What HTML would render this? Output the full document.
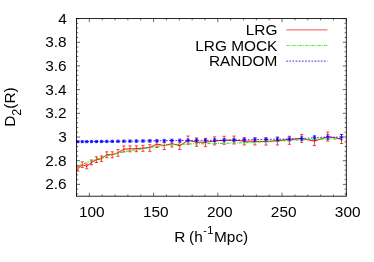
<!DOCTYPE html><html><head><meta charset="utf-8"><style>html,body{margin:0;padding:0;background:#fff}svg{display:block}</style></head><body><svg width="374" height="262" viewBox="0 0 374 262">
<defs><filter id="bl" x="0" y="0" width="100%" height="100%" filterUnits="userSpaceOnUse"><feGaussianBlur stdDeviation="0.4"/></filter></defs>
<rect width="100%" height="100%" fill="#fff"/>
<g filter="url(#bl)">
<g stroke="#000" stroke-width="0.6" fill="none">
<path d="M76.50,196.20 v-1.70 M76.50,18.60 v1.70"/>
<path d="M89.35,196.20 v-3.50 M89.35,18.60 v3.50"/>
<path d="M102.20,196.20 v-1.70 M102.20,18.60 v1.70"/>
<path d="M115.04,196.20 v-1.70 M115.04,18.60 v1.70"/>
<path d="M127.89,196.20 v-1.70 M127.89,18.60 v1.70"/>
<path d="M140.74,196.20 v-1.70 M140.74,18.60 v1.70"/>
<path d="M153.59,196.20 v-3.50 M153.59,18.60 v3.50"/>
<path d="M166.43,196.20 v-1.70 M166.43,18.60 v1.70"/>
<path d="M179.28,196.20 v-1.70 M179.28,18.60 v1.70"/>
<path d="M192.13,196.20 v-1.70 M192.13,18.60 v1.70"/>
<path d="M204.98,196.20 v-1.70 M204.98,18.60 v1.70"/>
<path d="M217.82,196.20 v-3.50 M217.82,18.60 v3.50"/>
<path d="M230.67,196.20 v-1.70 M230.67,18.60 v1.70"/>
<path d="M243.52,196.20 v-1.70 M243.52,18.60 v1.70"/>
<path d="M256.37,196.20 v-1.70 M256.37,18.60 v1.70"/>
<path d="M269.21,196.20 v-1.70 M269.21,18.60 v1.70"/>
<path d="M282.06,196.20 v-3.50 M282.06,18.60 v3.50"/>
<path d="M294.91,196.20 v-1.70 M294.91,18.60 v1.70"/>
<path d="M307.76,196.20 v-1.70 M307.76,18.60 v1.70"/>
<path d="M320.60,196.20 v-1.70 M320.60,18.60 v1.70"/>
<path d="M333.45,196.20 v-1.70 M333.45,18.60 v1.70"/>
<path d="M346.30,196.20 v-3.50 M346.30,18.60 v3.50"/>
<path d="M76.50,193.83 h1.70 M346.30,193.83 h-1.70"/>
<path d="M76.50,189.10 h1.70 M346.30,189.10 h-1.70"/>
<path d="M76.50,184.36 h3.50 M346.30,184.36 h-3.50"/>
<path d="M76.50,179.62 h1.70 M346.30,179.62 h-1.70"/>
<path d="M76.50,174.89 h1.70 M346.30,174.89 h-1.70"/>
<path d="M76.50,170.15 h1.70 M346.30,170.15 h-1.70"/>
<path d="M76.50,165.42 h1.70 M346.30,165.42 h-1.70"/>
<path d="M76.50,160.68 h3.50 M346.30,160.68 h-3.50"/>
<path d="M76.50,155.94 h1.70 M346.30,155.94 h-1.70"/>
<path d="M76.50,151.21 h1.70 M346.30,151.21 h-1.70"/>
<path d="M76.50,146.47 h1.70 M346.30,146.47 h-1.70"/>
<path d="M76.50,141.74 h1.70 M346.30,141.74 h-1.70"/>
<path d="M76.50,137.00 h3.50 M346.30,137.00 h-3.50"/>
<path d="M76.50,132.26 h1.70 M346.30,132.26 h-1.70"/>
<path d="M76.50,127.53 h1.70 M346.30,127.53 h-1.70"/>
<path d="M76.50,122.79 h1.70 M346.30,122.79 h-1.70"/>
<path d="M76.50,118.06 h1.70 M346.30,118.06 h-1.70"/>
<path d="M76.50,113.32 h3.50 M346.30,113.32 h-3.50"/>
<path d="M76.50,108.58 h1.70 M346.30,108.58 h-1.70"/>
<path d="M76.50,103.85 h1.70 M346.30,103.85 h-1.70"/>
<path d="M76.50,99.11 h1.70 M346.30,99.11 h-1.70"/>
<path d="M76.50,94.38 h1.70 M346.30,94.38 h-1.70"/>
<path d="M76.50,89.64 h3.50 M346.30,89.64 h-3.50"/>
<path d="M76.50,84.90 h1.70 M346.30,84.90 h-1.70"/>
<path d="M76.50,80.17 h1.70 M346.30,80.17 h-1.70"/>
<path d="M76.50,75.43 h1.70 M346.30,75.43 h-1.70"/>
<path d="M76.50,70.70 h1.70 M346.30,70.70 h-1.70"/>
<path d="M76.50,65.96 h3.50 M346.30,65.96 h-3.50"/>
<path d="M76.50,61.22 h1.70 M346.30,61.22 h-1.70"/>
<path d="M76.50,56.49 h1.70 M346.30,56.49 h-1.70"/>
<path d="M76.50,51.75 h1.70 M346.30,51.75 h-1.70"/>
<path d="M76.50,47.02 h1.70 M346.30,47.02 h-1.70"/>
<path d="M76.50,42.28 h3.50 M346.30,42.28 h-3.50"/>
<path d="M76.50,37.54 h1.70 M346.30,37.54 h-1.70"/>
<path d="M76.50,32.81 h1.70 M346.30,32.81 h-1.70"/>
<path d="M76.50,28.07 h1.70 M346.30,28.07 h-1.70"/>
<path d="M76.50,23.34 h1.70 M346.30,23.34 h-1.70"/>
<path d="M76.50,18.60 h3.50 M346.30,18.60 h-3.50"/>
</g>
<g font-family="Liberation Sans, sans-serif" font-size="15.4" fill="#000">
<text x="66.7" y="189.36" text-anchor="end">2.6</text>
<text x="66.7" y="165.68" text-anchor="end">2.8</text>
<text x="66.7" y="142.00" text-anchor="end">3</text>
<text x="66.7" y="118.32" text-anchor="end">3.2</text>
<text x="66.7" y="94.64" text-anchor="end">3.4</text>
<text x="66.7" y="70.96" text-anchor="end">3.6</text>
<text x="66.7" y="47.28" text-anchor="end">3.8</text>
<text x="66.7" y="23.60" text-anchor="end">4</text>
<text x="91.75" y="216.8" text-anchor="middle">100</text>
<text x="155.74" y="216.8" text-anchor="middle">150</text>
<text x="219.72" y="216.8" text-anchor="middle">200</text>
<text x="283.71" y="216.8" text-anchor="middle">250</text>
<text x="347.70" y="216.8" text-anchor="middle">300</text>
<text x="174.13" y="241.70">R</text>
<text x="189.08" y="241.70">(h</text>
<text x="203.32" y="234.10" font-size="10.8">-</text>
<text x="206.9" y="234.30" font-size="11.8">1</text>
<text x="214.04" y="241.70">Mpc)</text>
<text transform="translate(14.9,107.1) rotate(-90)" text-anchor="middle">D<tspan font-size="12.6" dy="6.2">2</tspan><tspan dy="-6.2">(R)</tspan></text>
<text x="277.4" y="35.2" text-anchor="end">LRG</text>
<text x="277.4" y="50.8" text-anchor="end">LRG MOCK</text>
<text x="277.4" y="66.4" text-anchor="end">RANDOM</text>
</g>
<path d="M286.2,29.9 H327.5" stroke="#f00" stroke-width="0.7" fill="none"/>
<path d="M286.2,45.5 H327.5" stroke="#0f0" stroke-width="0.8" fill="none" stroke-dasharray="3.2,1.1,0.9,1.1"/>
<path d="M286.2,61.1 H327.5" stroke="#22f" stroke-opacity="0.75" stroke-width="1.3" fill="none" stroke-dasharray="1.7,1.45"/>
<g stroke="#f00" stroke-width="1.0" fill="none">
<path d="M77.83,168.70 L82.22,164.60 L86.78,166.40 L91.52,162.40 L96.43,159.70 L101.52,158.70 L106.80,154.70 L112.29,154.70 L117.98,152.80 L123.88,149.10 L130.00,148.90 L136.36,148.70 L142.95,148.10 L149.79,147.50 L156.88,144.10 L164.25,145.60 L171.89,143.60 L179.81,145.80 L188.04,140.30 L196.57,142.20 L205.43,142.20 L214.61,141.00 L224.14,140.20 L234.03,140.20 L244.29,141.08 L254.94,141.31 L265.99,141.45 L277.45,140.69 L289.34,139.42 L301.68,138.55 L314.48,141.10 L327.76,136.70 L341.54,139.00"/>
<path stroke-width="0.75" d="M77.83,166.30 V171.10 M76.23,166.30 h3.2 M76.23,171.10 h3.2"/>
<path stroke-width="0.75" d="M82.22,161.80 V167.40 M80.62,161.80 h3.2 M80.62,167.40 h3.2"/>
<path stroke-width="0.75" d="M86.78,164.10 V168.80 M85.18,164.10 h3.2 M85.18,168.80 h3.2"/>
<path stroke-width="0.75" d="M91.52,160.00 V164.80 M89.92,160.00 h3.2 M89.92,164.80 h3.2"/>
<path stroke-width="0.75" d="M96.43,156.80 V162.50 M94.83,156.80 h3.2 M94.83,162.50 h3.2"/>
<path stroke-width="0.75" d="M101.52,156.00 V161.40 M99.92,156.00 h3.2 M99.92,161.40 h3.2"/>
<path stroke-width="0.75" d="M106.80,151.80 V157.70 M105.20,151.80 h3.2 M105.20,157.70 h3.2"/>
<path stroke-width="0.75" d="M112.29,151.80 V157.80 M110.69,151.80 h3.2 M110.69,157.80 h3.2"/>
<path stroke-width="0.75" d="M117.98,149.60 V156.30 M116.38,149.60 h3.2 M116.38,156.30 h3.2"/>
<path stroke-width="0.75" d="M123.88,145.90 V152.00 M122.28,145.90 h3.2 M122.28,152.00 h3.2"/>
<path stroke-width="0.75" d="M130.00,145.90 V151.80 M128.40,145.90 h3.2 M128.40,151.80 h3.2"/>
<path stroke-width="0.75" d="M136.36,145.80 V151.70 M134.76,145.80 h3.2 M134.76,151.70 h3.2"/>
<path stroke-width="0.75" d="M142.95,145.30 V151.30 M141.35,145.30 h3.2 M141.35,151.30 h3.2"/>
<path stroke-width="0.75" d="M149.79,144.70 V151.30 M148.19,144.70 h3.2 M148.19,151.30 h3.2"/>
<path stroke-width="0.75" d="M156.88,141.30 V147.50 M155.28,141.30 h3.2 M155.28,147.50 h3.2"/>
<path stroke-width="0.75" d="M164.25,142.40 V149.60 M162.65,142.40 h3.2 M162.65,149.60 h3.2"/>
<path stroke-width="0.75" d="M171.89,140.20 V147.00 M170.29,140.20 h3.2 M170.29,147.00 h3.2"/>
<path stroke-width="0.75" d="M179.81,142.30 V149.50 M178.21,142.30 h3.2 M178.21,149.50 h3.2"/>
<path stroke-width="0.75" d="M188.04,136.00 V144.30 M186.44,136.00 h3.2 M186.44,144.30 h3.2"/>
<path stroke-width="0.75" d="M196.57,137.90 V146.30 M194.97,137.90 h3.2 M194.97,146.30 h3.2"/>
<path stroke-width="0.75" d="M205.43,138.40 V146.70 M203.83,138.40 h3.2 M203.83,146.70 h3.2"/>
<path stroke-width="0.75" d="M214.61,136.90 V144.90 M213.01,136.90 h3.2 M213.01,144.90 h3.2"/>
<path stroke-width="0.75" d="M224.14,136.30 V144.30 M222.54,136.30 h3.2 M222.54,144.30 h3.2"/>
<path stroke-width="0.75" d="M234.03,136.10 V144.00 M232.43,136.10 h3.2 M232.43,144.00 h3.2"/>
<path stroke-width="0.75" d="M244.29,137.68 V144.98 M242.69,137.68 h3.2 M242.69,144.98 h3.2"/>
<path stroke-width="0.75" d="M254.94,137.91 V144.91 M253.34,137.91 h3.2 M253.34,144.91 h3.2"/>
<path stroke-width="0.75" d="M265.99,138.05 V145.05 M264.39,138.05 h3.2 M264.39,145.05 h3.2"/>
<path stroke-width="0.75" d="M277.45,137.09 V144.99 M275.85,137.09 h3.2 M275.85,144.99 h3.2"/>
<path stroke-width="0.75" d="M289.34,136.22 V144.32 M287.74,136.22 h3.2 M287.74,144.32 h3.2"/>
<path stroke-width="0.75" d="M301.68,134.45 V142.35 M300.08,134.45 h3.2 M300.08,142.35 h3.2"/>
<path stroke-width="0.75" d="M314.48,136.70 V145.60 M312.88,136.70 h3.2 M312.88,145.60 h3.2"/>
<path stroke-width="0.75" d="M327.76,132.10 V141.10 M326.16,132.10 h3.2 M326.16,141.10 h3.2"/>
<path stroke-width="0.75" d="M341.54,134.50 V143.50 M339.94,134.50 h3.2 M339.94,143.50 h3.2"/>
</g>
<path d="M77.83,165.87 L82.22,164.36 L86.78,162.51 L91.52,160.76 L96.43,159.12 L101.52,157.39 L106.80,155.81 L112.29,154.53 L117.98,153.17 L123.88,151.73 L130.00,150.74 L136.36,149.73 L142.95,148.71 L149.79,147.49 L156.88,146.50 L164.25,145.57 L171.89,144.83 L179.81,144.39 L188.04,143.89 L196.57,143.83 L205.43,143.69 L214.61,143.51 L224.14,143.30 L234.03,143.05 L244.29,142.71 L254.94,142.25 L265.99,141.85 L277.45,141.38 L289.34,140.44 L301.68,139.80 L314.48,139.30 L327.76,138.85 L341.54,139.28" stroke="#0e0" stroke-width="1.0" fill="none" stroke-dasharray="3.2,1.1,0.9,1.1"/>
<g stroke="#00f" stroke-width="0.8" fill="none">
<path d="M77.83,141.70 L82.22,141.66 L86.78,141.62 L91.52,141.58 L96.43,141.54 L101.52,141.50 L106.80,141.43 L112.29,141.36 L117.98,141.29 L123.88,141.21 L130.00,141.14 L136.36,141.07 L142.95,141.00 L149.79,140.90 L156.88,140.80 L164.25,140.70 L171.89,140.60 L179.81,140.50 L188.04,140.45 L196.57,140.40 L205.43,140.35 L214.61,140.30 L224.14,140.15 L234.03,140.00 L244.29,139.83 L254.94,139.61 L265.99,139.42 L277.45,139.22 L289.34,139.02 L301.68,138.45 L314.48,137.80 L327.76,137.00 L341.54,137.20" stroke-dasharray="1.7,1.45"/>
<path stroke-width="0.7" d="M77.83,140.80 V142.60"/>
<path stroke-width="0.5" d="M76.23,140.80 h3.2 M76.23,142.60 h3.2"/>
<path stroke-width="0.8" d="M76.13,141.70 h3.40"/>
<path stroke-width="0.6" d="M77.83,140.00 v3.40 M76.53,140.40 l2.60,2.60 M76.53,143.00 l2.60,-2.60"/>
<path stroke-width="0.7" d="M82.22,140.73 V142.59"/>
<path stroke-width="0.5" d="M80.62,140.73 h3.2 M80.62,142.59 h3.2"/>
<path stroke-width="0.8" d="M80.52,141.66 h3.40"/>
<path stroke-width="0.6" d="M82.22,139.96 v3.40 M80.92,140.36 l2.60,2.60 M80.92,142.96 l2.60,-2.60"/>
<path stroke-width="0.7" d="M86.78,140.66 V142.58"/>
<path stroke-width="0.5" d="M85.18,140.66 h3.2 M85.18,142.58 h3.2"/>
<path stroke-width="0.8" d="M85.08,141.62 h3.40"/>
<path stroke-width="0.6" d="M86.78,139.92 v3.40 M85.48,140.32 l2.60,2.60 M85.48,142.92 l2.60,-2.60"/>
<path stroke-width="0.7" d="M91.52,140.59 V142.57"/>
<path stroke-width="0.5" d="M89.92,140.59 h3.2 M89.92,142.57 h3.2"/>
<path stroke-width="0.8" d="M89.82,141.58 h3.40"/>
<path stroke-width="0.6" d="M91.52,139.88 v3.40 M90.22,140.28 l2.60,2.60 M90.22,142.88 l2.60,-2.60"/>
<path stroke-width="0.7" d="M96.43,140.52 V142.56"/>
<path stroke-width="0.5" d="M94.83,140.52 h3.2 M94.83,142.56 h3.2"/>
<path stroke-width="0.8" d="M94.73,141.54 h3.40"/>
<path stroke-width="0.6" d="M96.43,139.84 v3.40 M95.13,140.24 l2.60,2.60 M95.13,142.84 l2.60,-2.60"/>
<path stroke-width="0.7" d="M101.52,140.45 V142.55"/>
<path stroke-width="0.5" d="M99.92,140.45 h3.2 M99.92,142.55 h3.2"/>
<path stroke-width="0.8" d="M99.82,141.50 h3.40"/>
<path stroke-width="0.6" d="M101.52,139.80 v3.40 M100.22,140.20 l2.60,2.60 M100.22,142.80 l2.60,-2.60"/>
<path stroke-width="0.7" d="M106.80,140.35 V142.51"/>
<path stroke-width="0.5" d="M105.20,140.35 h3.2 M105.20,142.51 h3.2"/>
<path stroke-width="0.8" d="M105.10,141.43 h3.40"/>
<path stroke-width="0.6" d="M106.80,139.73 v3.40 M105.50,140.13 l2.60,2.60 M105.50,142.73 l2.60,-2.60"/>
<path stroke-width="0.7" d="M112.29,140.25 V142.47"/>
<path stroke-width="0.5" d="M110.69,140.25 h3.2 M110.69,142.47 h3.2"/>
<path stroke-width="0.8" d="M110.59,141.36 h3.40"/>
<path stroke-width="0.6" d="M112.29,139.66 v3.40 M110.99,140.06 l2.60,2.60 M110.99,142.66 l2.60,-2.60"/>
<path stroke-width="0.7" d="M117.98,140.15 V142.43"/>
<path stroke-width="0.5" d="M116.38,140.15 h3.2 M116.38,142.43 h3.2"/>
<path stroke-width="0.8" d="M116.28,141.29 h3.40"/>
<path stroke-width="0.6" d="M117.98,139.59 v3.40 M116.68,139.99 l2.60,2.60 M116.68,142.59 l2.60,-2.60"/>
<path stroke-width="0.7" d="M123.88,140.04 V142.38"/>
<path stroke-width="0.5" d="M122.28,140.04 h3.2 M122.28,142.38 h3.2"/>
<path stroke-width="0.8" d="M122.18,141.21 h3.40"/>
<path stroke-width="0.6" d="M123.88,139.51 v3.40 M122.58,139.91 l2.60,2.60 M122.58,142.51 l2.60,-2.60"/>
<path stroke-width="0.7" d="M130.00,139.94 V142.34"/>
<path stroke-width="0.5" d="M128.40,139.94 h3.2 M128.40,142.34 h3.2"/>
<path stroke-width="0.8" d="M128.30,141.14 h3.40"/>
<path stroke-width="0.6" d="M130.00,139.44 v3.40 M128.70,139.84 l2.60,2.60 M128.70,142.44 l2.60,-2.60"/>
<path stroke-width="0.7" d="M136.36,139.83 V142.31"/>
<path stroke-width="0.5" d="M134.76,139.83 h3.2 M134.76,142.31 h3.2"/>
<path stroke-width="0.8" d="M134.66,141.07 h3.40"/>
<path stroke-width="0.6" d="M136.36,139.37 v3.40 M135.06,139.77 l2.60,2.60 M135.06,142.37 l2.60,-2.60"/>
<path stroke-width="0.7" d="M142.95,139.72 V142.28"/>
<path stroke-width="0.5" d="M141.35,139.72 h3.2 M141.35,142.28 h3.2"/>
<path stroke-width="0.8" d="M141.25,141.00 h3.40"/>
<path stroke-width="0.6" d="M142.95,139.30 v3.40 M141.65,139.70 l2.60,2.60 M141.65,142.30 l2.60,-2.60"/>
<path stroke-width="0.7" d="M149.79,139.58 V142.22"/>
<path stroke-width="0.5" d="M148.19,139.58 h3.2 M148.19,142.22 h3.2"/>
<path stroke-width="0.8" d="M148.09,140.90 h3.40"/>
<path stroke-width="0.6" d="M149.79,139.20 v3.40 M148.49,139.60 l2.60,2.60 M148.49,142.20 l2.60,-2.60"/>
<path stroke-width="0.7" d="M156.88,139.44 V142.16"/>
<path stroke-width="0.5" d="M155.28,139.44 h3.2 M155.28,142.16 h3.2"/>
<path stroke-width="0.8" d="M155.18,140.80 h3.40"/>
<path stroke-width="0.6" d="M156.88,139.10 v3.40 M155.58,139.50 l2.60,2.60 M155.58,142.10 l2.60,-2.60"/>
<path stroke-width="0.7" d="M164.25,139.30 V142.10"/>
<path stroke-width="0.5" d="M162.65,139.30 h3.2 M162.65,142.10 h3.2"/>
<path stroke-width="0.8" d="M162.55,140.70 h3.40"/>
<path stroke-width="0.6" d="M164.25,139.00 v3.40 M162.95,139.40 l2.60,2.60 M162.95,142.00 l2.60,-2.60"/>
<path stroke-width="0.7" d="M171.89,139.16 V142.04"/>
<path stroke-width="0.5" d="M170.29,139.16 h3.2 M170.29,142.04 h3.2"/>
<path stroke-width="0.8" d="M170.19,140.60 h3.40"/>
<path stroke-width="0.6" d="M171.89,138.90 v3.40 M170.59,139.30 l2.60,2.60 M170.59,141.90 l2.60,-2.60"/>
<path stroke-width="0.7" d="M179.81,139.02 V141.98"/>
<path stroke-width="0.5" d="M178.21,139.02 h3.2 M178.21,141.98 h3.2"/>
<path stroke-width="0.8" d="M178.11,140.50 h3.40"/>
<path stroke-width="0.6" d="M179.81,138.80 v3.40 M178.51,139.20 l2.60,2.60 M178.51,141.80 l2.60,-2.60"/>
<path stroke-width="0.7" d="M188.04,138.93 V141.97"/>
<path stroke-width="0.5" d="M186.44,138.93 h3.2 M186.44,141.97 h3.2"/>
<path stroke-width="0.8" d="M186.34,140.45 h3.40"/>
<path stroke-width="0.6" d="M188.04,138.75 v3.40 M186.74,139.15 l2.60,2.60 M186.74,141.75 l2.60,-2.60"/>
<path stroke-width="0.7" d="M196.57,138.84 V141.96"/>
<path stroke-width="0.5" d="M194.97,138.84 h3.2 M194.97,141.96 h3.2"/>
<path stroke-width="0.8" d="M194.87,140.40 h3.40"/>
<path stroke-width="0.6" d="M196.57,138.70 v3.40 M195.27,139.10 l2.60,2.60 M195.27,141.70 l2.60,-2.60"/>
<path stroke-width="0.7" d="M205.43,138.75 V141.95"/>
<path stroke-width="0.5" d="M203.83,138.75 h3.2 M203.83,141.95 h3.2"/>
<path stroke-width="0.8" d="M203.73,140.35 h3.40"/>
<path stroke-width="0.6" d="M205.43,138.65 v3.40 M204.13,139.05 l2.60,2.60 M204.13,141.65 l2.60,-2.60"/>
<path stroke-width="0.7" d="M214.61,138.67 V141.93"/>
<path stroke-width="0.5" d="M213.01,138.67 h3.2 M213.01,141.93 h3.2"/>
<path stroke-width="0.8" d="M212.91,140.30 h3.40"/>
<path stroke-width="0.6" d="M214.61,138.60 v3.40 M213.31,139.00 l2.60,2.60 M213.31,141.60 l2.60,-2.60"/>
<path stroke-width="0.7" d="M224.14,138.48 V141.82"/>
<path stroke-width="0.5" d="M222.54,138.48 h3.2 M222.54,141.82 h3.2"/>
<path stroke-width="0.8" d="M222.44,140.15 h3.40"/>
<path stroke-width="0.6" d="M224.14,138.45 v3.40 M222.84,138.85 l2.60,2.60 M222.84,141.45 l2.60,-2.60"/>
<path stroke-width="0.7" d="M234.03,138.30 V141.70"/>
<path stroke-width="0.5" d="M232.43,138.30 h3.2 M232.43,141.70 h3.2"/>
<path stroke-width="0.8" d="M232.33,140.00 h3.40"/>
<path stroke-width="0.6" d="M234.03,138.30 v3.40 M232.73,138.70 l2.60,2.60 M232.73,141.30 l2.60,-2.60"/>
<path stroke-width="0.7" d="M244.29,138.09 V141.56"/>
<path stroke-width="0.5" d="M242.69,138.09 h3.2 M242.69,141.56 h3.2"/>
<path stroke-width="0.8" d="M242.59,139.83 h3.40"/>
<path stroke-width="0.6" d="M244.29,138.13 v3.40 M242.99,138.53 l2.60,2.60 M242.99,141.13 l2.60,-2.60"/>
<path stroke-width="0.7" d="M254.94,137.85 V141.38"/>
<path stroke-width="0.5" d="M253.34,137.85 h3.2 M253.34,141.38 h3.2"/>
<path stroke-width="0.8" d="M253.24,139.61 h3.40"/>
<path stroke-width="0.6" d="M254.94,137.91 v3.40 M253.64,138.31 l2.60,2.60 M253.64,140.91 l2.60,-2.60"/>
<path stroke-width="0.7" d="M265.99,137.62 V141.22"/>
<path stroke-width="0.5" d="M264.39,137.62 h3.2 M264.39,141.22 h3.2"/>
<path stroke-width="0.8" d="M264.29,139.42 h3.40"/>
<path stroke-width="0.6" d="M265.99,137.72 v3.40 M264.69,138.12 l2.60,2.60 M264.69,140.72 l2.60,-2.60"/>
<path stroke-width="0.7" d="M277.45,137.32 V141.12"/>
<path stroke-width="0.5" d="M275.85,137.32 h3.2 M275.85,141.12 h3.2"/>
<path stroke-width="0.8" d="M275.75,139.22 h3.40"/>
<path stroke-width="0.6" d="M277.45,137.52 v3.40 M276.15,137.92 l2.60,2.60 M276.15,140.52 l2.60,-2.60"/>
<path stroke-width="0.7" d="M289.34,137.02 V141.02"/>
<path stroke-width="0.5" d="M287.74,137.02 h3.2 M287.74,141.02 h3.2"/>
<path stroke-width="0.8" d="M287.64,139.02 h3.40"/>
<path stroke-width="0.6" d="M289.34,137.32 v3.40 M288.04,137.72 l2.60,2.60 M288.04,140.32 l2.60,-2.60"/>
<path stroke-width="0.7" d="M301.68,136.35 V140.55"/>
<path stroke-width="0.5" d="M300.08,136.35 h3.2 M300.08,140.55 h3.2"/>
<path stroke-width="0.8" d="M299.98,138.45 h3.40"/>
<path stroke-width="0.6" d="M301.68,136.75 v3.40 M300.38,137.15 l2.60,2.60 M300.38,139.75 l2.60,-2.60"/>
<path stroke-width="0.7" d="M314.48,135.50 V140.10"/>
<path stroke-width="0.5" d="M312.88,135.50 h3.2 M312.88,140.10 h3.2"/>
<path stroke-width="0.8" d="M312.78,137.80 h3.40"/>
<path stroke-width="0.6" d="M314.48,136.10 v3.40 M313.18,136.50 l2.60,2.60 M313.18,139.10 l2.60,-2.60"/>
<path stroke-width="0.7" d="M327.76,134.50 V139.50"/>
<path stroke-width="0.5" d="M326.16,134.50 h3.2 M326.16,139.50 h3.2"/>
<path stroke-width="0.8" d="M326.06,137.00 h3.40"/>
<path stroke-width="0.6" d="M327.76,135.30 v3.40 M326.46,135.70 l2.60,2.60 M326.46,138.30 l2.60,-2.60"/>
<path stroke-width="0.7" d="M341.54,134.50 V139.90"/>
<path stroke-width="0.5" d="M339.94,134.50 h3.2 M339.94,139.90 h3.2"/>
<path stroke-width="0.8" d="M339.84,137.20 h3.40"/>
<path stroke-width="0.6" d="M341.54,135.50 v3.40 M340.24,135.90 l2.60,2.60 M340.24,138.50 l2.60,-2.60"/>
</g>
<rect x="76.50" y="18.60" width="269.80" height="177.60" stroke="#000" stroke-width="0.85" fill="none"/>
</g>
</svg></body></html>
